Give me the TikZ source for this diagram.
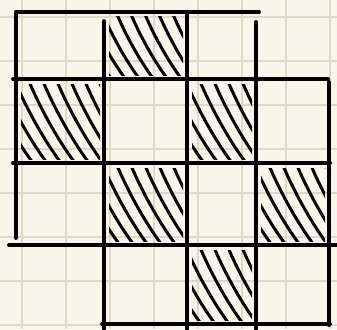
\documentclass[tikz,border=0pt]{standalone}
\definecolor{paper}{RGB}{248,246,234}
\definecolor{faint}{RGB}{220,217,200}
\newcommand\hcell[4]{%
  \begin{scope}
    \clip (#1+5,#2+5) rectangle (#3-4,#4-4);
    \pgfmathsetmacro\hh{#4-#2}
    \pgfmathsetmacro\dd{0.56*\hh}
    \foreach \o in {-58,-44,...,100} {
      \draw[hatch] (#1+\o,#2) .. controls (#1+\o+0.22*\dd,#2+0.3*\hh) and (#1+\o+0.6*\dd,#2+0.7*\hh) .. (#1+\o+\dd,#4);
    }
  \end{scope}}
\begin{document}
\begin{tikzpicture}[x=1pt,y=-1pt,
  gridline/.style={line width=3.9pt,line cap=round},
  hatch/.style={line width=3pt,line cap=round}]
\useasboundingbox (0,0) rectangle (337,329);
\fill[paper] (0,0) rectangle (337,329);
\foreach \x in {22,66,...,330} \draw[faint,line width=1.1pt] (\x,0) -- (\x,329);
\foreach \y in {17,61,...,325} \draw[faint,line width=1.1pt] (0,\y) -- (337,\y);
% hatched cells
\hcell{104}{12}{187}{79}
\hcell{16}{79}{104}{163}
\hcell{187}{79}{256}{163}
\hcell{104}{163}{187}{245}
\hcell{256}{163}{329}{245}
\hcell{187}{245}{256}{324}
% thick lines
\draw[gridline] (16,12) -- (259,12);
\draw[gridline] (16,12) -- (16,238);
\draw[gridline] (13,79) -- (328,79);
\draw[gridline] (104,21) -- (104,329);
\draw[gridline] (187,12) -- (187,329);
\draw[gridline] (256,22) -- (256,329);
\draw[gridline] (329,82) -- (329,325);
\draw[gridline] (13,163) -- (330,163);
\draw[gridline] (9,245) -- (337,245);
\draw[gridline] (102,324) -- (330,324);
\end{tikzpicture}
\end{document}
